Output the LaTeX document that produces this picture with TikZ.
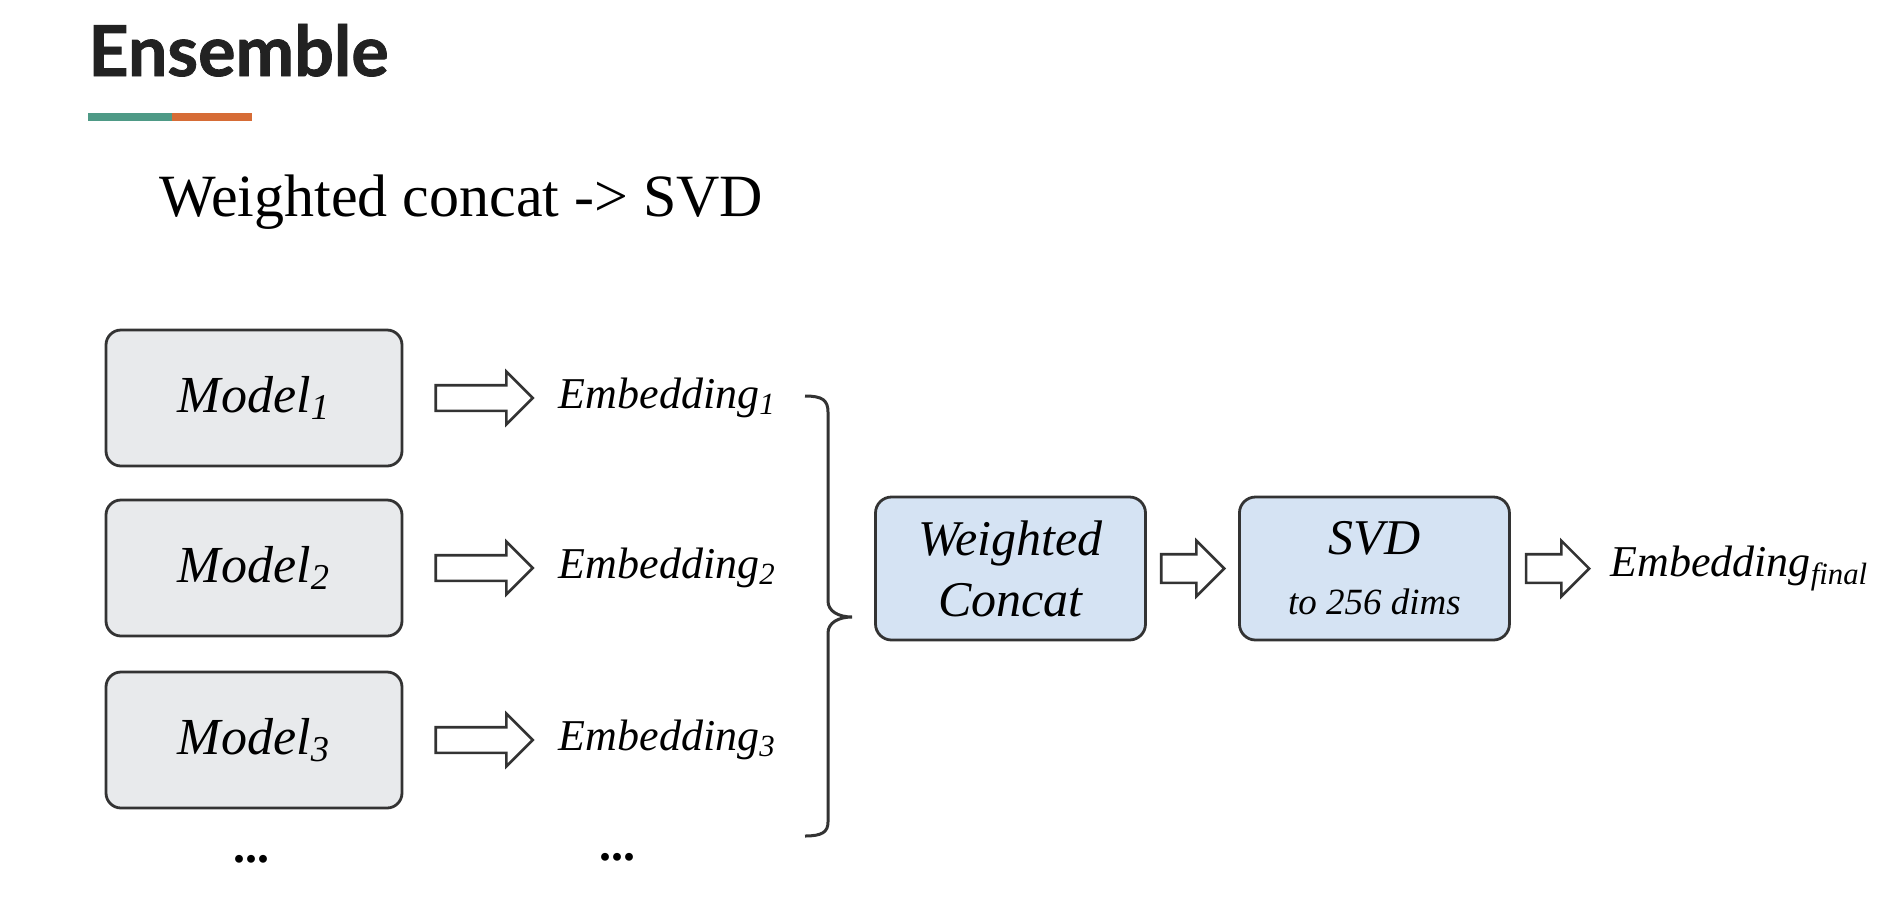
\documentclass[tikz,border=0pt]{standalone}
\usepackage{fontspec}
\setmainfont{Liberation Serif}
\newfontfamily\titlefont[BoldFeatures={FakeBold=1.2}]{Lato}
\usepackage{xcolor}
\usepackage{tikz}
\usetikzlibrary{positioning, shapes.arrows}
\definecolor{modelgray}{HTML}{E8EAEC}
\definecolor{stageblue}{HTML}{D5E3F3}
\definecolor{edgegray}{HTML}{333333}
\definecolor{titleblack}{HTML}{222222}
\definecolor{barteal}{HTML}{4E9A86}
\definecolor{barorange}{HTML}{D66C36}
\tikzset{
    model/.style={rectangle, rounded corners=7.5pt, draw=edgegray, line width=1.4pt, fill=modelgray, minimum width=148pt, minimum height=68pt, font=\fontsize{26}{31}\selectfont\itshape},
    stage/.style={rectangle, rounded corners=8pt, draw=edgegray, line width=1.4pt, fill=stageblue, minimum width=135pt, minimum height=71.5pt, align=center, font=\fontsize{25}{30.5}\selectfont\itshape},
    hollow/.style={single arrow, draw=edgegray, line width=1.3pt, fill=white, inner xsep=0pt, inner ysep=5.75pt, single arrow head extend=6.75pt, minimum width=1pt, minimum height=48.5pt},
    emb/.style={inner sep=0pt, font=\fontsize{22}{26}\selectfont\itshape},
    dots/.style={anchor=base, inner sep=0pt, font=\fontsize{24}{28}\selectfont\bfseries}
}

\begin{document}
\begin{tikzpicture}[x=0.5pt, y=-0.5pt]
    \useasboundingbox (0,0) rectangle (1900,906);

    % Title
    \node[anchor=base west, inner sep=0pt, text=titleblack, font=\titlefont\bfseries\fontsize{35}{40}\selectfont] (title) at (88,76) {Ensemble};
    \fill[barteal] (88,113) rectangle (172,121);
    \fill[barorange] (172,113) rectangle (252,121);
    \node[anchor=base west, inner sep=0pt, font=\fontsize{30}{36}\selectfont] (subtitle) at (159,216) {Weighted concat -> SVD};

    % Models and embeddings
    \foreach \i/\y in {1/398, 2/568, 3/740} {
        \node[model] (model\i) at (254,\y) {Model\textsubscript{\i}};
        \node[hollow, right=15.5pt of model\i] (arr\i) {};
        \node[emb, right=12pt of arr\i] (emb\i) {Embedding\textsubscript{\i}};
    }
    \node[dots] (dotsA) at (251,862) {...};
    \node[dots] (dotsB) at (617,860) {...};

    % Brace
    \draw[line width=1.5pt, edgegray] (805,396) .. controls (822,396) and (828,400) .. (828,412) -- (828,601)
        .. controls (828,611) and (838,617) .. (852,617) .. controls (838,617) and (828,623) .. (828,633)
        -- (828,822) .. controls (828,832) and (822,836) .. (805,836);

    % Concat, SVD
    \node[stage] (concat) at (1010.5,568.5) {Weighted\\Concat};
    \node[hollow, minimum height=31.5pt, inner ysep=6.5pt, right=6.5pt of concat] (arr4) {};
    \node[stage, right=6pt of arr4] (svd) {SVD\\[-0.5pt]{\fontsize{18.5}{22}\selectfont to 256 dims}};
    \node[hollow, minimum height=31.5pt, inner ysep=6.5pt, right=7pt of svd] (arr5) {};
    \node[emb, right=9.5pt of arr5] (final) {Embedding\textsubscript{final}};
\end{tikzpicture}
\end{document}
